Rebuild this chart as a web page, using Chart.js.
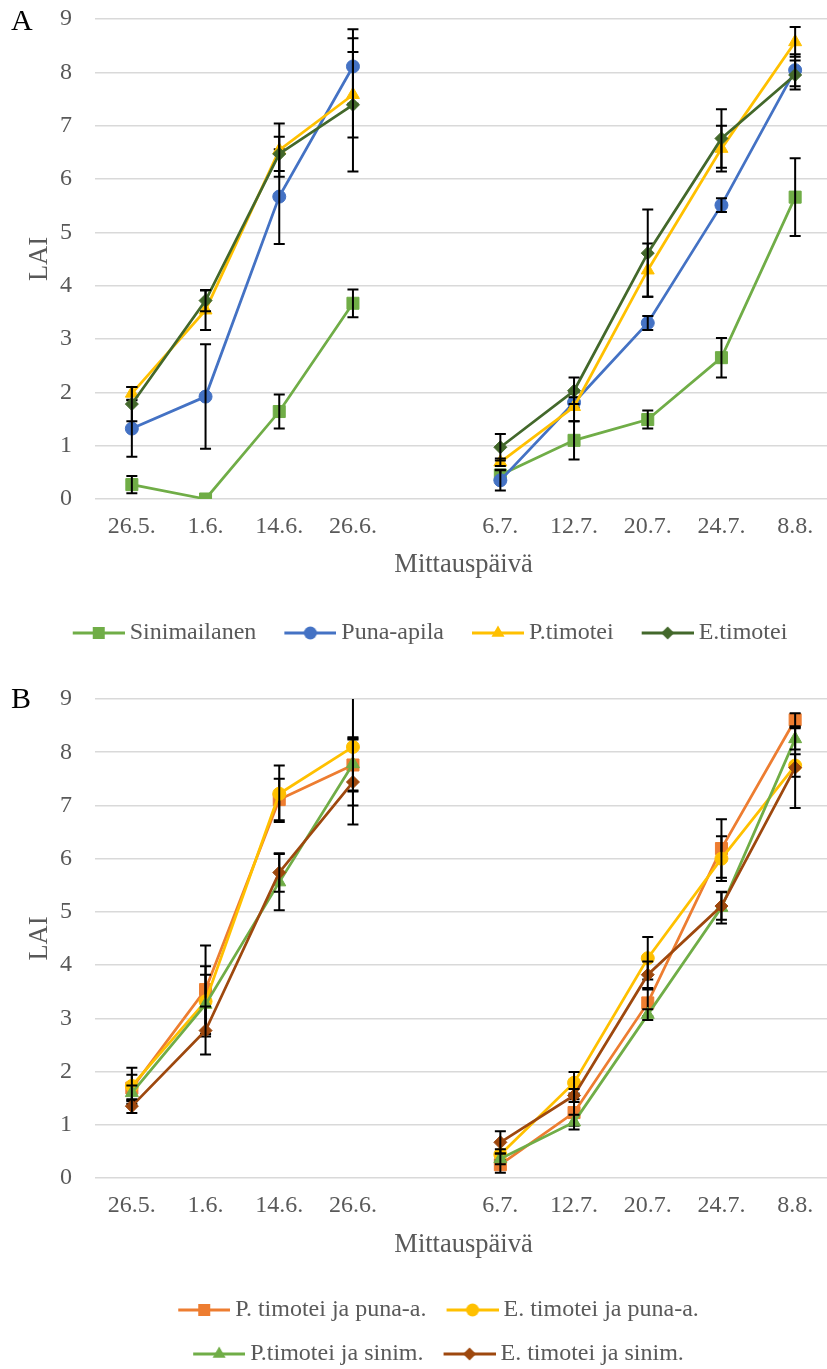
<!DOCTYPE html>
<html>
<head>
<meta charset="utf-8">
<script src="https://cdn.jsdelivr.net/npm/chart.js@4.4.0/dist/chart.umd.min.js"></script>
<style>
  html, body { margin: 0; padding: 0; background: #fff; overflow: hidden; }
  #page { position: relative; width: 827px; height: 1369px; overflow: hidden; }
  .panel { position: absolute; left: 0; width: 832px; }
  .tag { position: absolute; left: 11px; font-family: "Liberation Serif"; font-size: 30px; line-height: 1; color: #000; }
</style>
</head>
<body>
<div id="page">
  <div class="panel" style="top:0"><canvas id="chartA" width="832" height="665"></canvas></div>
  <div class="tag" style="top:5px">A</div>
  <div class="panel" style="top:665px"><canvas id="chartB" width="832" height="711"></canvas></div>
  <div class="tag" style="top:683px">B</div>
</div>
<script>
// measurement dates (empty slot = break between the two growing periods)
const dates = ['26.5.', '1.6.', '14.6.', '26.6.', '', '6.7.', '12.7.', '20.7.', '24.7.', '8.8.'];
const yTicks = [0, 9, 1];

// panel A: pure stands
const sinimailanen    = [0.27, 0.00, 1.64, 3.67, null, 0.45, 1.10, 1.49, 2.65, 5.66];
const sinimailanenErr = [0.16, 0.00, 0.32, 0.26, null, 0.10, 0.36, 0.17, 0.37, 0.73];
const punaApila       = [1.32, 1.92, 5.67, 8.11, null, 0.35, 1.81, 3.30, 5.51, 8.04];
const punaApilaErr    = [0.53, 0.98, 0.89, 0.70, null, 0.19, 0.10, 0.13, 0.13, 0.30];
const pTimotei        = [1.98, 3.54, 6.54, 7.58, null, 0.69, 1.73, 4.29, 6.57, 8.57];
const pTimoteiErr     = [0.12, 0.37, 0.50, 0.80, null, 0.07, 0.27, 0.50, 0.43, 0.28];
const eTimotei        = [1.78, 3.72, 6.47, 7.39, null, 0.97, 2.03, 4.61, 6.76, 7.95];
const eTimoteiErr     = [0.32, 0.20, 0.32, 1.25, null, 0.25, 0.25, 0.82, 0.55, 0.27];

// panel B: mixtures
const pPuna    = [1.69, 3.54, 7.11, 7.76, null, 0.25, 1.23, 3.29, 6.19, 8.61];
const pPunaErr = [0.25, 0.83, 0.39, 0.50, null, 0.15, 0.25, 0.25, 0.55, 0.12];
const ePuna    = [1.73, 3.32, 7.22, 8.10, null, 0.44, 1.79, 4.13, 6.00, 7.75];
const ePunaErr = [0.34, 0.66, 0.53, 1.10, null, 0.10, 0.20, 0.40, 0.42, 0.21];
const pSinim    = [1.60, 3.26, 5.56, 7.78, null, 0.36, 1.05, 3.07, 5.08, 8.25];
const pSinimErr = [0.14, 0.56, 0.53, 0.50, null, 0.10, 0.14, 0.10, 0.30, 0.20];
const eSinim    = [1.35, 2.77, 5.74, 7.44, null, 0.67, 1.55, 3.82, 5.11, 7.71];
const eSinimErr = [0.13, 0.45, 0.36, 0.80, null, 0.21, 0.12, 0.25, 0.26, 0.76];

const FONT = 'Liberation Serif';
const TEXT = '#595959';
const RADIUS = { rect: 8.5, circle: 6.5, triangle: 7.5, rectRot: 6.5 };

// draw a marker shape for the legend icons
function drawMarker(g, style, x, y, r) {
  g.beginPath();
  if (style === 'circle') {
    g.arc(x, y, r, 0, Math.PI * 2);
  } else if (style === 'rect') {
    const s = r * Math.SQRT1_2;
    g.rect(x - s, y - s, 2 * s, 2 * s);
  } else if (style === 'triangle') {
    g.moveTo(x, y - r);
    g.lineTo(x + r * 0.866, y + r / 2);
    g.lineTo(x - r * 0.866, y + r / 2);
    g.closePath();
  } else {
    g.moveTo(x - r, y); g.lineTo(x, y - r); g.lineTo(x + r, y); g.lineTo(x, y + r);
    g.closePath();
  }
  g.fill();
}

// line + marker image used as legend symbol (visible part is the right 52px)
function legendIcon(color, style, w) {
  const c = document.createElement('canvas');
  c.width = w; c.height = 20;
  const g = c.getContext('2d');
  const x0 = w - 52;
  g.strokeStyle = color; g.lineWidth = 3;
  g.beginPath(); g.moveTo(x0, 10); g.lineTo(w, 10); g.stroke();
  g.fillStyle = color;
  drawMarker(g, style, x0 + 26, 10, RADIUS[style]);
  return c;
}

function series(label, data, errors, color, style, i) {
  return {
    label: label,
    data: data,
    errors: errors,
    borderColor: color,
    backgroundColor: color,
    borderWidth: 2.75,
    tension: 0,
    spanGaps: false,
    pointStyle: style,
    pointRadius: RADIUS[style],
    pointBorderWidth: 1,
    pointBackgroundColor: color,
    pointBorderColor: color,
    order: 4 - i,
    icon: legendIcon(color, style, 59)
  };
}

// black error bars, drawn right after each series like in Excel
const errorBars = {
  id: 'errorBars',
  afterDatasetDraw(chart, args) {
    const ds = chart.data.datasets[args.index];
    if (!ds.errors) return;
    const y = chart.scales.y;
    const area = chart.chartArea;
    const ctx = chart.ctx;
    ctx.save();
    ctx.beginPath();
    ctx.rect(area.left, area.top, area.right - area.left, area.bottom - area.top + 3);
    ctx.clip();
    ctx.strokeStyle = '#000';
    ctx.lineWidth = 2;
    args.meta.data.forEach((pt, i) => {
      const v = ds.data[i], e = ds.errors[i];
      if (v == null || !e) return;
      const x = pt.x;
      const top = y.getPixelForValue(v + e);
      const bot = y.getPixelForValue(v - e);
      ctx.beginPath();
      ctx.moveTo(x, top); ctx.lineTo(x, bot);
      ctx.moveTo(x - 5.5, top); ctx.lineTo(x + 5.5, top);
      ctx.moveTo(x - 5.5, bot); ctx.lineTo(x + 5.5, bot);
      ctx.stroke();
    });
    ctx.restore();
  }
};

function createChart(id, datasets, cfg) {
  const ctx = document.getElementById(id).getContext('2d');
  return new Chart(ctx, {
    type: 'line',
    data: { labels: dates, datasets: datasets },
    plugins: [errorBars],
    options: {
      responsive: false,
      animation: false,
      layout: {
        autoPadding: false,
        padding: { left: cfg.left, top: cfg.top, right: 0, bottom: cfg.bottom }
      },
      plugins: {
        tooltip: { enabled: false },
        legend: {
          display: true,
          position: 'bottom',
          labels: {
            usePointStyle: true,
            pointStyleWidth: 45,
            padding: cfg.legendPad,
            color: TEXT,
            font: { family: FONT, size: 24 },
            generateLabels: chart => chart.data.datasets.map((ds, i) => ({
              text: ds.label,
              pointStyle: ds.icon,
              fillStyle: ds.borderColor,
              strokeStyle: ds.borderColor,
              fontColor: TEXT,
              lineWidth: 0,
              hidden: false,
              datasetIndex: i
            }))
          }
        }
      },
      scales: {
        x: {
          offset: true,
          grid: { display: false, drawTicks: false },
          border: { display: false },
          ticks: { color: TEXT, font: { family: FONT, size: 24 }, padding: 13, autoSkip: false, maxRotation: 0 },
          title: { display: true, text: 'Mittauspäivä', color: TEXT, font: { family: FONT, size: 26.5 }, padding: { top: 0, bottom: cfg.titlePad } },
          afterFit: s => {
            s.height = cfg.xHeight;
            s.paddingLeft = 0;
            s.paddingRight = 0;
          }
        },
        y: {
          min: yTicks[0],
          max: yTicks[1],
          ticks: { stepSize: yTicks[2], color: TEXT, font: { family: FONT, size: 24 }, padding: 3 },
          grid: { color: '#D9D9D9', lineWidth: 1.5, drawTicks: true, tickLength: 20, tickColor: 'rgba(0,0,0,0)' },
          border: { display: false },
          title: { display: true, text: 'LAI', color: TEXT, font: { family: FONT, size: 26.5 }, padding: { top: 40 - cfg.left - 15.9, bottom: 0 } },
          afterFit: s => { s.width = 95 - cfg.left; }
        }
      }
    }
  });
}

createChart('chartA', [
  series('Sinimailanen', sinimailanen, sinimailanenErr, '#70AD47', 'rect', 0),
  series('Puna-apila', punaApila, punaApilaErr, '#4472C4', 'circle', 1),
  series('P.timotei', pTimotei, pTimoteiErr, '#FFC000', 'triangle', 2),
  series('E.timotei', eTimotei, eTimoteiErr, '#43682B', 'rectRot', 3)
], { left: 28, top: 19, bottom: 10, xHeight: 94, titlePad: 12, legendPad: 28 });

createChart('chartB', [
  series('P. timotei ja puna-a.', pPuna, pPunaErr, '#ED7D31', 'rect', 0),
  series('E. timotei ja puna-a.', ePuna, ePunaErr, '#FFC000', 'circle', 1),
  series('P.timotei ja sinim.', pSinim, pSinimErr, '#70AD47', 'triangle', 2),
  series('E. timotei ja sinim.', eSinim, eSinimErr, '#9E480E', 'rectRot', 3)
], { left: 45, top: 34, bottom: 0, xHeight: 100, titlePad: 17, legendPad: 20 });
</script>
</body>
</html>
